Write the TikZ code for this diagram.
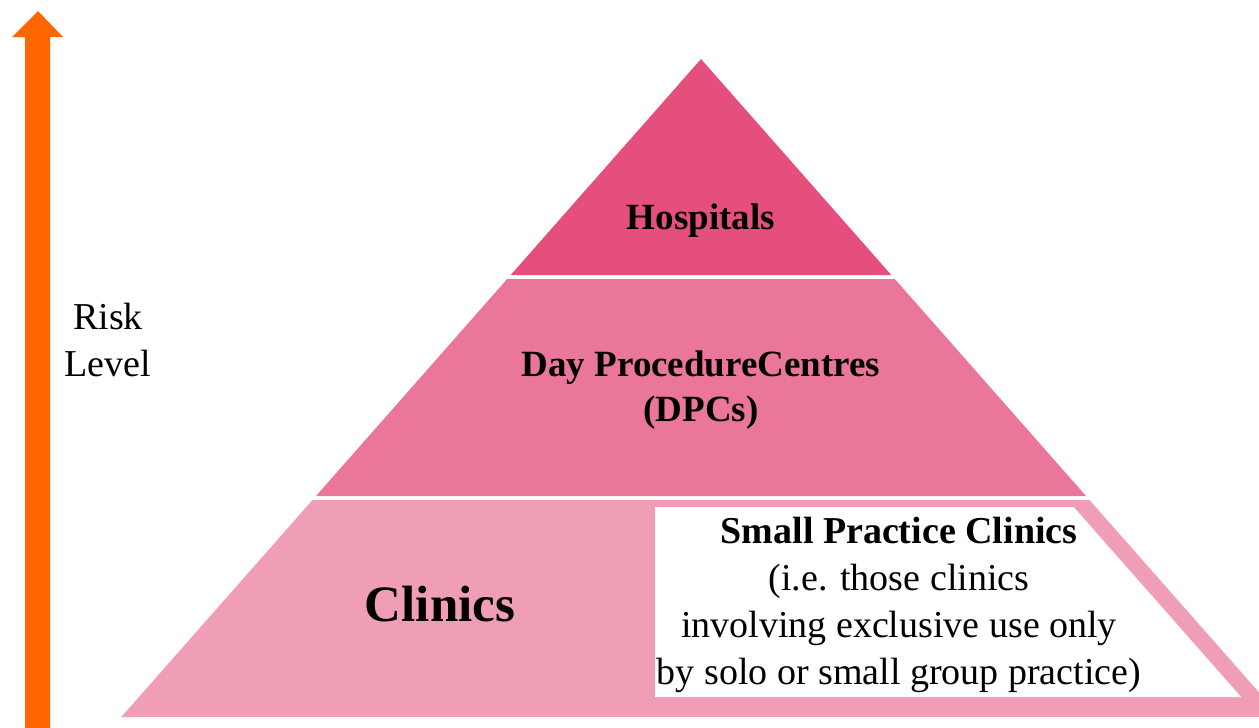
\documentclass[tikz,border=0pt]{standalone}
\usepackage{fontspec}
\setmainfont{Liberation Serif}
\definecolor{topc}{RGB}{228,80,123}
\definecolor{midc}{RGB}{234,119,153}
\definecolor{botc}{RGB}{240,158,181}
\definecolor{arrowc}{RGB}{255,102,0}
\tikzset{
  lbl/.style={inner sep=0pt, align=center, text=black},
  boldlbl/.style={lbl, font=\fontsize{37}{45}\selectfont\bfseries},
}
\begin{document}
\begin{tikzpicture}[x=1pt,y=-1pt]
\useasboundingbox (0,0) rectangle (1259,728);
\clip (0,0) rectangle (1259,728);
% risk arrow
\fill[arrowc] (25,728) -- (25,37) -- (12,37) -- (38,11) -- (63,37) -- (50,37) -- (50,728) -- cycle;
\node[lbl, font=\fontsize{38}{47}\selectfont] (risk) at (108,340) {Risk\\Level};
% pyramid
\fill[topc] (701,59) -- (891.3,275) -- (510.7,275) -- cycle;
\fill[midc] (507.2,279) -- (894.8,279) -- (1086,496) -- (316,496) -- cycle;
\fill[botc] (312.5,500) -- (1089.5,500) -- (1280.7,717) -- (121.3,717) -- cycle;
\fill[white] (655,507) -- (1073.7,507) -- (1241.1,697) -- (655,697) -- cycle;
\node[boldlbl] (hosp) at (701,221) {Hospitals};
\node[boldlbl] (dpc) at (701,390) {Day ProcedureCentres\\(DPCs)};
\node[lbl, font=\fontsize{51}{60}\selectfont\bfseries] (clin) at (440,604) {Clinics};
\node[lbl, font=\fontsize{38}{47}\selectfont] (small) at (899,605)
  {\textbf{Small Practice Clinics}\\(i.e. those clinics\\involving exclusive use only\\by solo or small group practice)};
\end{tikzpicture}
\end{document}
